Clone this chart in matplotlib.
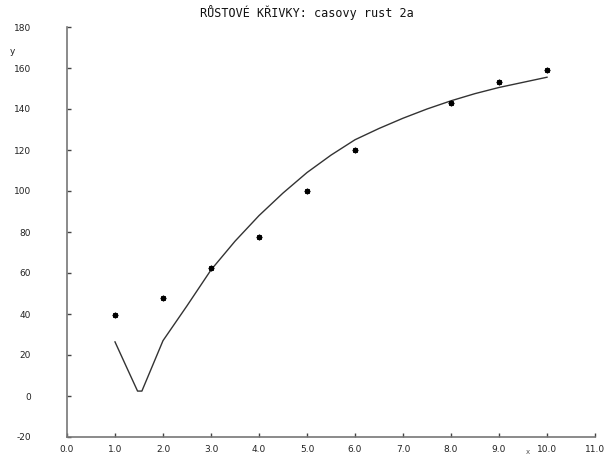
import matplotlib
matplotlib.use("Agg")
import matplotlib.pyplot as plt

# observed data points
obs_x = [1, 2, 3, 4, 5, 6, 8, 9, 10]
obs_y = [39.5, 48, 62.5, 77.5, 100, 120, 143, 153, 159]

# fitted curve
fit_x = [1.0, 1.25, 1.47, 1.56, 2.0, 2.5, 3.0, 3.5, 4.0, 4.5, 5.0, 5.5, 6.0,
         6.5, 7.0, 7.5, 8.0, 8.5, 9.0, 9.5, 10.0]
fit_y = [26.4, 13.6, 2.4, 2.4, 27, 44, 61.5, 75.5, 88, 99, 109, 117.5, 125,
         130.5, 135.5, 140, 144, 147.5, 150.5, 153, 155.5]

xticks = [0, 1, 2, 3, 4, 5, 6, 7, 8, 9, 10, 11]
xticklabels = ["0.0", "1.0", "2.0", "3.0", "4.0", "5.0", "6.0", "7.0", "8.0",
               "9.0", "10.0", "11.0"]
yticks = [-20, 0, 20, 40, 60, 80, 100, 120, 140, 160, 180]

title = "RŮSTOVÉ KŘIVKY: casovy rust 2a"

W, H = 608, 457
fig = plt.figure(figsize=(W / 100, H / 100), dpi=100)
ax = fig.add_axes([67 / W, (H - 437) / H, 528 / W, 410 / H])

ax.plot(fit_x, fit_y, color="#333333", lw=1.0)
ax.plot(obs_x, obs_y, linestyle="none", marker=(8, 2, 0), markersize=4,
        markeredgewidth=1.0, color="black")

ax.set_xlim(0, 11)
ax.set_ylim(-20, 180)
ax.set_xticks(xticks)
ax.set_xticklabels(xticklabels)
ax.set_yticks(yticks)
ax.set_yticklabels([str(v) for v in yticks])

for s in ["top", "right"]:
    ax.spines[s].set_visible(False)
for s in ["left", "bottom"]:
    ax.spines[s].set_color("#777777")
    ax.spines[s].set_linewidth(1.2)

ax.tick_params(axis="both", direction="in", length=3, width=1, color="#444444",
               labelsize=6.5, labelcolor="#222222")
ax.tick_params(axis="y", pad=26)
ax.tick_params(axis="x", pad=6)
for lab in ax.get_yticklabels():
    lab.set_horizontalalignment("right")

fig.text(307 / W, 1 - 13 / H, title, ha="center", va="center", fontsize=8.5,
         family="DejaVu Sans Mono", color="#111111")
fig.text(12 / W, 1 - 51 / H, "y", ha="center", va="center", fontsize=6.5,
         color="#222222")
fig.text(528 / W, 1 - 452 / H, "x", ha="center", va="center", fontsize=5,
         color="#555555")

fig.savefig("out.png", dpi=100)
